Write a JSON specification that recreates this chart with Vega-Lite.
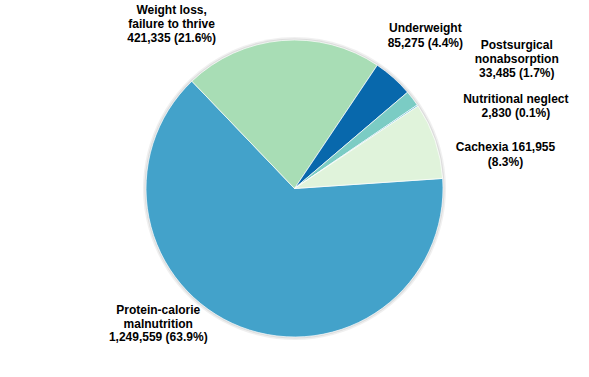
{
  "$schema": "https://vega.github.io/schema/vega-lite/v6.json",
  "width": 589,
  "height": 377,
  "autosize": {"type": "fit", "contains": "padding"},
  "padding": 0,
  "background": "white",
  "view": {"stroke": null},
  "data": {"values": [
    {"cat": "Protein-calorie malnutrition", "value": 1249559, "order": 1, "label": "Protein-calorie\nmalnutrition\n1,249,559 (63.9%)"},
    {"cat": "Weight loss, failure to thrive", "value": 421335, "order": 2, "label": "Weight loss,\nfailure to thrive\n421,335 (21.6%)"},
    {"cat": "Underweight", "value": 85275, "order": 3, "label": "Underweight\n85,275 (4.4%)"},
    {"cat": "Postsurgical nonabsorption", "value": 33485, "order": 4, "label": "Postsurgical\nnonabsorption\n33,485 (1.7%)"},
    {"cat": "Nutritional neglect", "value": 2830, "order": 5, "label": "Nutritional neglect\n2,830 (0.1%)"},
    {"cat": "Cachexia", "value": 161955, "order": 6, "label": "Cachexia 161,955\n(8.3%)"}
  ]},
  "transform": [
    {"stack": "value", "groupby": [], "sort": [{"field": "order", "order": "ascending"}], "as": ["v0", "v1"]},
    {"calculate": "(datum.v0 + datum.v1) / 2", "as": "mid"}
  ],
  "layer": [
    {
      "mark": {"type": "arc", "radius": 151.5, "fill": "#000000", "opacity": 0.06},
      "encoding": {
        "theta": {"field": "v0", "type": "quantitative", "stack": null, "scale": {"type": "linear", "domain": [0, 1954439], "range": [1.503, 7.786], "zero": true}},
        "theta2": {"field": "v1"}
      }
    },
    {
      "mark": {"type": "arc", "radius": 150, "fill": "#000000", "opacity": 0.08},
      "encoding": {
        "theta": {"field": "v0", "type": "quantitative", "stack": null},
        "theta2": {"field": "v1"}
      }
    },
    {
      "mark": {"type": "arc", "radius": 148.5, "stroke": "#ffffff", "strokeWidth": 0.7},
      "encoding": {
        "theta": {"field": "v0", "type": "quantitative", "stack": null},
        "theta2": {"field": "v1"},
        "color": {
          "field": "cat", "type": "nominal", "legend": null,
          "scale": {
            "domain": ["Protein-calorie malnutrition", "Weight loss, failure to thrive", "Underweight", "Postsurgical nonabsorption", "Nutritional neglect", "Cachexia"],
            "range": ["#43A2CA", "#A8DDB5", "#0868AC", "#7BCCC4", "#4EB3D3", "#E0F3DB"]
          }
        }
      }
    },
    {
      "transform": [{"filter": "datum.order == 1"}],
      "mark": {"type": "text", "radius": 150, "dx": -82, "dy": -18, "align": "center", "baseline": "middle", "lineBreak": "\n", "lineHeight": 13.5, "font": "Liberation Sans", "fontWeight": "bold", "fontSize": 12, "fill": "#000000"},
      "encoding": {"theta": {"field": "mid", "type": "quantitative", "stack": null}, "text": {"field": "label"}}
    },
    {
      "transform": [{"filter": "datum.order == 2"}],
      "mark": {"type": "text", "radius": 150, "dx": -110, "dy": -29, "align": "center", "baseline": "middle", "lineBreak": "\n", "lineHeight": 14, "font": "Liberation Sans", "fontWeight": "bold", "fontSize": 12, "fill": "#000000"},
      "encoding": {"theta": {"field": "mid", "type": "quantitative", "stack": null}, "text": {"field": "label"}}
    },
    {
      "transform": [{"filter": "datum.order == 3"}],
      "mark": {"type": "text", "radius": 150, "dx": 31, "dy": -49, "align": "center", "baseline": "middle", "lineBreak": "\n", "lineHeight": 15, "font": "Liberation Sans", "fontWeight": "bold", "fontSize": 12, "fill": "#000000"},
      "encoding": {"theta": {"field": "mid", "type": "quantitative", "stack": null}, "text": {"field": "label"}}
    },
    {
      "transform": [{"filter": "datum.order == 4"}],
      "mark": {"type": "text", "radius": 150, "dx": 103, "dy": -53, "align": "center", "baseline": "middle", "lineBreak": "\n", "lineHeight": 14, "font": "Liberation Sans", "fontWeight": "bold", "fontSize": 12, "fill": "#000000"},
      "encoding": {"theta": {"field": "mid", "type": "quantitative", "stack": null}, "text": {"field": "label"}}
    },
    {
      "transform": [{"filter": "datum.order == 5"}],
      "mark": {"type": "text", "radius": 150, "dx": 97, "dy": -6, "align": "center", "baseline": "middle", "lineBreak": "\n", "lineHeight": 14, "font": "Liberation Sans", "fontWeight": "bold", "fontSize": 12, "fill": "#000000"},
      "encoding": {"theta": {"field": "mid", "type": "quantitative", "stack": null}, "text": {"field": "label"}}
    },
    {
      "transform": [{"filter": "datum.order == 6"}],
      "mark": {"type": "text", "radius": 150, "dx": 69, "dy": 7, "align": "center", "baseline": "middle", "lineBreak": "\n", "lineHeight": 15, "font": "Liberation Sans", "fontWeight": "bold", "fontSize": 12, "fill": "#000000"},
      "encoding": {"theta": {"field": "mid", "type": "quantitative", "stack": null}, "text": {"field": "label"}}
    }
  ]
}
